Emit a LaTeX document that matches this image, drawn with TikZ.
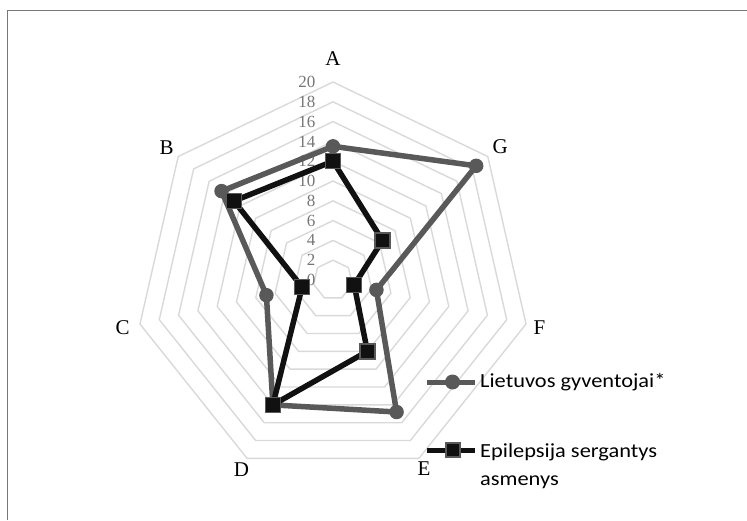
\documentclass[tikz,border=0pt]{standalone}
\usepackage{fontspec}
\setmainfont{Liberation Serif}
\newfontfamily\legendfont[FakeStretch=1.12]{Carlito}
\usetikzlibrary{positioning}

\definecolor{ringgray}{RGB}{217,217,217}
\definecolor{popgray}{RGB}{89,89,89}
\definecolor{patblack}{RGB}{17,17,17}
\definecolor{tickgray}{RGB}{118,118,118}
\definecolor{framegray}{RGB}{120,120,120}

\tikzset{
  ring/.style={draw=ringgray, line width=1.4pt, line join=round},
  popline/.style={draw=popgray, line width=5.5pt, line join=round},
  patline/.style={draw=patblack, line width=5.5pt, line join=round},
  popmark/.style={circle, fill=popgray, inner sep=0pt, minimum size=14.5pt},
  patmark/.style={rectangle, fill=patblack, draw=popgray, line width=1.3pt,
    inner sep=0pt, minimum size=15pt},
  axislab/.style={font=\fontsize{21}{25}\selectfont, inner sep=0pt},
  ticklab/.style={font=\fontsize{17}{20}\selectfont, text=tickgray,
    anchor=east, inner sep=0pt},
  legtext/.style={font=\legendfont\fontsize{20}{28}\selectfont,
    anchor=base west, inner sep=0pt, align=left},
}

\begin{document}
\begin{tikzpicture}[x=1pt, y=1pt]
    \useasboundingbox (0,0) rectangle (747,520);
    % frame (left and top edges only)
    \draw[framegray, line width=1.5pt] (7.5,0) -- (7.5,509.5) -- (747,509.5);

    \begin{scope}[shift={(333,240)}, x=9.9pt, y=9.9pt]
    % grid rings
    \foreach \v in {2,4,...,20}
        \draw[ring] (90:\v) \foreach \k in {1,...,6} { -- ({90+\k*360/7}:\v) } -- cycle;
    % scale
    \foreach \v in {0,2,...,20}
        \node[ticklab] (tick\v) at (-1.75,\v) {\v};
    % axis names
    \foreach \lab/\r [count=\i from 0] in {A/22.4,B/21.5,C/21.8,D/21.3,E/21.2,F/21.4,G/21.6}
        \node[axislab] (ax\lab) at ({90+\i*360/7}:\r) {\lab};

    % Lietuvos gyventojai
    \coordinate (popA) at (90:13.5);
    \coordinate (popB) at (141.43:14.4);
    \coordinate (popC) at (192.86:6.9);
    \coordinate (popD) at (244.29:14.0);
    \coordinate (popE) at (295.71:14.8);
    \coordinate (popF) at (347.14:4.5);
    \coordinate (popG) at (38.57:18.5);
    \draw[popline] (popA) -- (popB) -- (popC) -- (popD) -- (popE) -- (popF) -- (popG) -- cycle;
    \foreach \p in {A,B,C,D,E,F,G}
        \node[popmark] (mpop\p) at (pop\p) {};

    % Epilepsija sergantys asmenys
    \coordinate (patA) at (90:12.0);
    \coordinate (patB) at (141.43:12.8);
    \coordinate (patC) at (192.86:3.2);
    \coordinate (patD) at (244.29:14.0);
    \coordinate (patE) at (295.71:8.0);
    \coordinate (patF) at (347.14:2.2);
    \coordinate (patG) at (38.57:6.4);
    \draw[patline] (patA) -- (patB) -- (patC) -- (patD) -- (patE) -- (patF) -- (patG) -- cycle;
    \foreach \p in {A,B,C,D,E,F,G}
        \node[patmark] (mpat\p) at (pat\p) {};
    \end{scope}

    % legend
    \coordinate (legpopL) at (427,138);
    \coordinate (legpopR) at (475,138);
    \draw[popline, line width=5pt] (legpopL) -- (legpopR);
    \node[popmark, minimum size=15pt] (legpop) at (452.5,138) {};
    \node[legtext] (legpoptxt) at (480,132.7) {Lietuvos gyventojai*};

    \coordinate (legpatL) at (427,70);
    \coordinate (legpatR) at (475,70);
    \draw[patline, line width=5pt] (legpatL) -- (legpatR);
    \node[patmark, minimum size=14pt] (legpat) at (453,70) {};
    \node[legtext] (legpattxt) at (480,35) {Epilepsija sergantys\\asmenys};
\end{tikzpicture}
\end{document}
